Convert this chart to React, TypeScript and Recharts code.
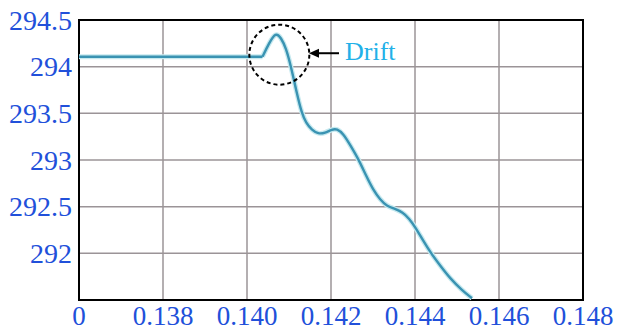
import React from "react";
import {
  LineChart,
  Line,
  XAxis,
  YAxis,
  CartesianGrid,
  ReferenceArea,
  ReferenceDot,
} from "recharts";

// flat (steady) part of the record
const flatTime = [0.136, 0.138, 0.14, 0.140369];
const flatTemp = [294.107, 294.107, 294.107, 294.107];

// drift and decline part
const driftTime = [
  0.140369, 0.140524, 0.140683, 0.14081, 0.140929, 0.141048, 0.141179,
  0.141302, 0.141405, 0.14154, 0.141698, 0.141857, 0.142024, 0.142143,
  0.142293, 0.142452, 0.142667, 0.142833, 0.143, 0.143167, 0.143333,
  0.1435, 0.143714, 0.143857, 0.144017, 0.14419, 0.144381, 0.144595,
  0.144833, 0.145119, 0.145357,
];
const driftTemp = [
  294.107, 294.25, 294.37, 294.31, 294.2, 294.0, 293.73,
  293.502, 293.399, 293.324, 293.278, 293.289, 293.329, 293.335,
  293.281, 293.164, 292.998, 292.833, 292.683, 292.577, 292.505,
  292.481, 292.438, 292.374, 292.274, 292.139, 292.0, 291.872,
  291.733, 291.605, 291.519,
];

const xTicks = [0.136, 0.138, 0.14, 0.142, 0.144, 0.146, 0.148];
const xTickLabels = ["0", "0.138", "0.140", "0.142", "0.144", "0.146", "0.148"];
const yTicks = [292, 292.5, 293, 293.5, 294, 294.5];
const yTickLabels = ["292", "292.5", "293", "293.5", "294", "294.5"];

const circleCenter = { x: 0.14077, y: 294.128 };
const arrowTip = { x: 0.141476, y: 294.144 };
const annotationText = "Drift";

const data = [
  ...flatTime.map((t, i) => ({ t, flat: flatTemp[i] as number | null, drift: null as number | null })),
  ...driftTime.map((t, i) => ({ t, flat: null as number | null, drift: driftTemp[i] as number | null })),
];
// share the junction point
data[flatTime.length - 1].drift = driftTemp[0];
data.splice(flatTime.length, 1);

const labelColor = "#2150DA";
const fontFamily = '"Liberation Serif", "Times New Roman", serif';

const lookup = (arr: number[], labels: string[], v: number) => {
  const i = arr.findIndex((a) => Math.abs(a - v) < 1e-9);
  return i >= 0 ? labels[i] : "";
};

const XTick = (props: any) => {
  const { x, y, payload } = props;
  return (
    <text
      x={x}
      y={y}
      dy={19}
      textAnchor="middle"
      fill={labelColor}
      fontSize={27}
      style={{ fontFamily }}
    >
      {lookup(xTicks, xTickLabels, payload.value)}
    </text>
  );
};

const YTick = (props: any) => {
  const { x, y, payload } = props;
  return (
    <text
      x={x}
      y={y}
      dy={9.5}
      textAnchor="end"
      fill={labelColor}
      fontSize={28}
      style={{ fontFamily }}
    >
      {lookup(yTicks, yTickLabels, payload.value)}
    </text>
  );
};

const ArrowShape = (props: any) => {
  const { cx, cy } = props;
  if (cx == null || cy == null) return null;
  return (
    <g>
      <line x1={cx + 6} y1={cy} x2={cx + 30} y2={cy} stroke="#000" strokeWidth={2} />
      <polygon
        points={`${cx},${cy} ${cx + 10},${cy - 4.5} ${cx + 10},${cy + 4.5}`}
        fill="#000"
      />
      <text
        x={cx + 36}
        y={cy + 7}
        fill="#22B0E8"
        fontSize={26}
        style={{ fontFamily }}
      >
        {annotationText}
      </text>
    </g>
  );
};

export default function App() {
  return (
    <div style={{ position: "absolute", left: 0, top: 0, background: "#fff" }}>
      <LineChart
        width={617}
        height={331}
        data={data}
        margin={{ top: 20, right: 34, left: 0, bottom: 0 }}
      >
        <CartesianGrid stroke="#9b9497" strokeWidth={1.5} />
        <XAxis
          dataKey="t"
          type="number"
          domain={[0.136, 0.148]}
          ticks={xTicks}
          height={31}
          axisLine={false}
          tickLine={false}
          tickSize={6}
          tickMargin={0}
          tick={<XTick />}
          interval={0}
        />
        <YAxis
          type="number"
          domain={[291.5, 294.5]}
          ticks={yTicks}
          width={79}
          axisLine={false}
          tickLine={false}
          tickSize={6}
          tickMargin={1}
          tick={<YTick />}
          interval={0}
        />
        <Line
          type="linear"
          dataKey="flat"
          stroke="#c6e9ef"
          strokeWidth={5}
          dot={false}
          connectNulls={false}
          isAnimationActive={false}
        />
        <Line
          type="basis"
          dataKey="drift"
          stroke="#c6e9ef"
          strokeWidth={5}
          dot={false}
          connectNulls={false}
          isAnimationActive={false}
        />
        <Line
          type="linear"
          dataKey="flat"
          stroke="#3A93B2"
          strokeWidth={2.4}
          dot={false}
          connectNulls={false}
          isAnimationActive={false}
        />
        <Line
          type="basis"
          dataKey="drift"
          stroke="#3A93B2"
          strokeWidth={2.4}
          dot={false}
          connectNulls={false}
          isAnimationActive={false}
        />
        <ReferenceArea
          x1={0.136}
          x2={0.148}
          y1={291.5}
          y2={294.5}
          fill="none"
          fillOpacity={0}
          stroke="#000"
          strokeWidth={2}
        />
        <ReferenceDot
          x={circleCenter.x}
          y={circleCenter.y}
          r={30}
          fill="none"
          stroke="#000"
          strokeWidth={2}
          strokeDasharray="4 3"
        />
        <ReferenceDot x={arrowTip.x} y={arrowTip.y} r={1} shape={ArrowShape} />
      </LineChart>
    </div>
  );
}
